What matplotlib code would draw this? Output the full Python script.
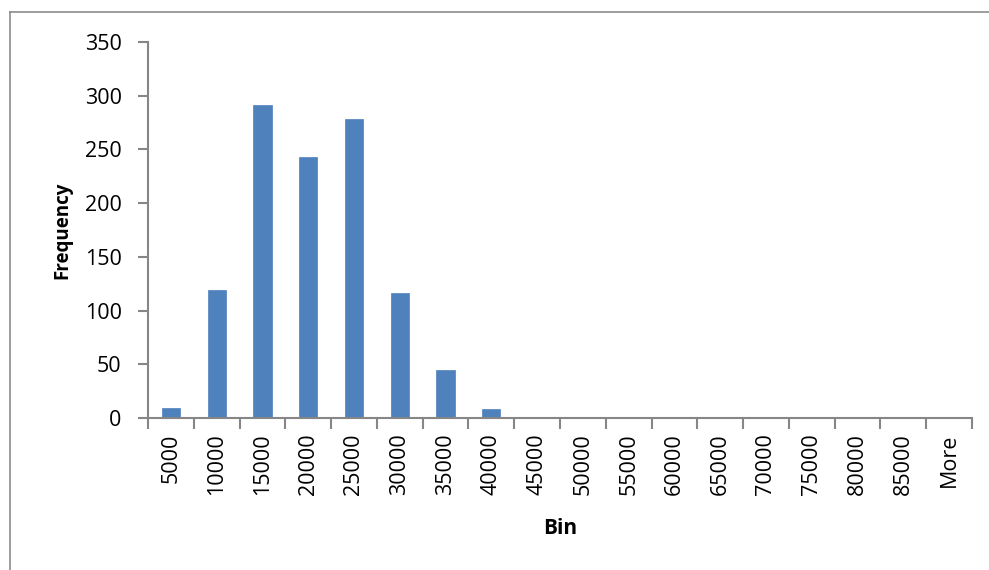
import matplotlib.pyplot as plt
from matplotlib.lines import Line2D
import numpy as np

plt.rcParams['font.family'] = ['Open Sans', 'DejaVu Sans']

# histogram output: bin upper edges and counts
bins = ['5000', '10000', '15000', '20000', '25000', '30000', '35000', '40000',
        '45000', '50000', '55000', '60000', '65000', '70000', '75000', '80000',
        '85000', 'More']
frequency = [9, 119, 291, 243, 278, 116, 45, 8, 1, 0, 0, 0, 0, 0, 0, 0, 0, 0]
yticks = [0, 50, 100, 150, 200, 250, 300, 350]

axis_grey = '#868686'

fig = plt.figure(figsize=(9.89, 5.70), dpi=100)
ax = fig.add_axes([148 / 989, 1 - 418 / 570, 824 / 989, 376 / 570])

x = np.arange(len(bins))
ax.bar(x, frequency, width=0.4, color='#4F81BD', edgecolor='#4F81BD', linewidth=0.5)

ax.set_xlim(-0.5, len(bins) - 0.5)
ax.set_ylim(0, 350)
ax.set_yticks(yticks)
ax.set_yticklabels([str(v) for v in yticks], fontsize=15.5)

ax.set_xticks(x)
ax.set_xticklabels(bins, rotation=90, fontsize=15.5)
ax.set_xticks(np.arange(len(bins) + 1) - 0.5, minor=True)
ax.tick_params(axis='x', which='major', length=0, pad=11)
ax.tick_params(axis='x', which='minor', length=8, width=1.5, color=axis_grey, direction='out')
ax.tick_params(axis='y', length=7, width=1.5, color=axis_grey, pad=12)

for side in ('top', 'right'):
    ax.spines[side].set_visible(False)
for side in ('left', 'bottom'):
    ax.spines[side].set_color(axis_grey)
    ax.spines[side].set_linewidth(1.5)

fig.text(62 / 989, 1 - 230 / 570, 'Frequency', rotation=90, ha='center', va='center',
         fontsize=13.5, fontweight='bold')
fig.text(560 / 989, 1 - 529 / 570, 'Bin', ha='center', va='center',
         fontsize=15, fontweight='bold')

# chart area border (only left and top edges fall inside the image)
fig.add_artist(Line2D([10 / 989, 10 / 989], [0, 1 - 12 / 570], transform=fig.transFigure,
                      color='#8c8c8c', linewidth=1.2))
fig.add_artist(Line2D([10 / 989, 1], [1 - 12 / 570, 1 - 12 / 570], transform=fig.transFigure,
                      color='#8c8c8c', linewidth=1.2))

fig.savefig('out.png', dpi=100, facecolor='white')
